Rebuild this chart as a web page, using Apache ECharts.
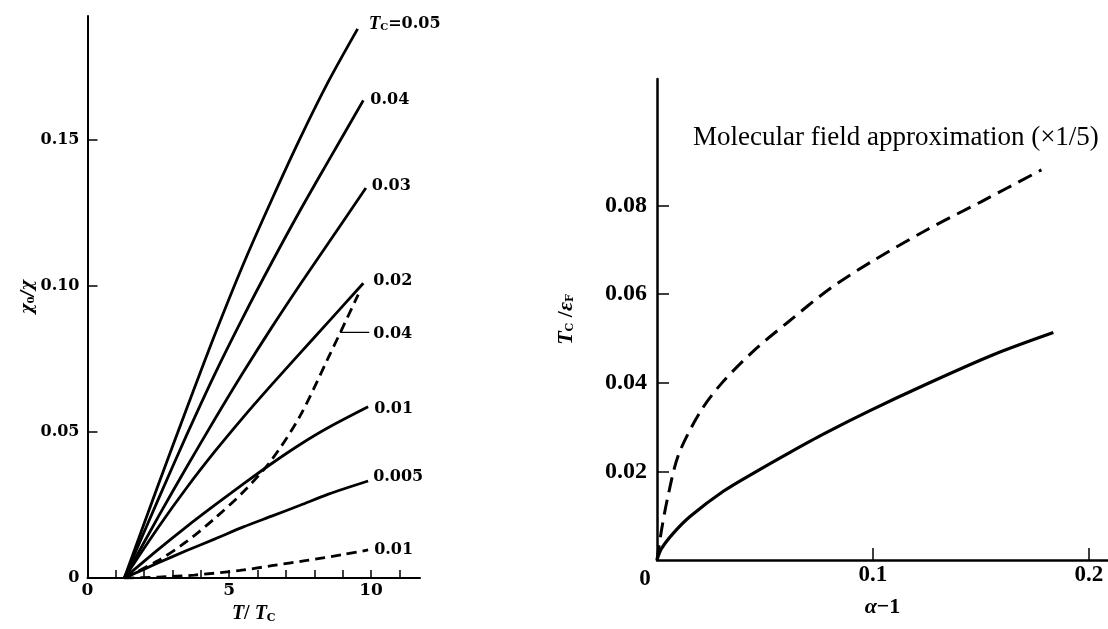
<!DOCTYPE html>
<html>
<head>
<meta charset="utf-8">
<script src="https://cdn.jsdelivr.net/npm/echarts@6/dist/echarts.min.js"></script>
<style>
html,body{margin:0;padding:0;background:#fff;}
#chart{width:1108px;height:629px;}
</style>
</head>
<body>
<div id="chart"></div>
<script>
// ---------- Left panel data: chi0/chi vs T/Tc ----------
const tc005 = [[1.3,0],[2.5,0.032],[3.5,0.058],[4.5,0.0835],[5.5,0.1075],[6.5,0.1295],[7.5,0.1505],[8.5,0.170],[9.53,0.188]];
const tc004 = [[1.3,0],[2.5,0.027],[3.5,0.049],[4.5,0.070],[5.5,0.0895],[6.5,0.108],[7.5,0.1258],[8.5,0.1428],[9.73,0.1635]];
const tc003 = [[1.3,0],[2.5,0.021],[3.5,0.038],[4.5,0.0545],[5.5,0.0705],[6.5,0.0858],[7.5,0.1005],[8.5,0.1147],[9.82,0.1335]];
const tc002 = [[1.3,0],[2.5,0.0174],[3.5,0.0309],[4.5,0.0434],[5.5,0.0551],[6.5,0.0662],[7.5,0.077],[8.5,0.0877],[9.73,0.1009]];
const tc001 = [[1.3,0],[2.5,0.0098],[3.5,0.0176],[4.5,0.025],[5.5,0.0322],[6.5,0.0392],[7.5,0.0457],[8.5,0.0515],[9.9,0.0586]];
const tc0005 = [[1.3,0],[2.5,0.0052],[3.5,0.0094],[4.5,0.0134],[5.5,0.0175],[6.5,0.0212],[7.5,0.0249],[8.5,0.0287],[9.9,0.0332]];
const dash004 = [[1.3,0],[2.5,0.006],[3.5,0.0125],[4.5,0.0205],[5.5,0.0295],[6.5,0.0405],[7.5,0.0555],[8.5,0.0755],[9.55,0.097]];
const dash001 = [[1.3,0],[2.5,0.0003],[3.77,0.001],[5.38,0.0026],[6.5,0.0042],[7.73,0.006],[9.0,0.008],[9.9,0.0096]];
const leader004 = [[8.91,0.0841],[9.94,0.0841]];
const leftLabels = ['{t|T}{s|C}{n|=0.05}','0.04','0.03','0.02','0.01','0.005','0.01','0.04'];
const leftXTicks = [1,2,3,4,5,6,7,8,9,10,11];
const leftXLabels = [0,5,10];
const leftYTicks = [0.05,0.10,0.15];
const leftYLabels = [0,0.05,0.10,0.15];

// ---------- Right panel data: Tc/eF vs alpha-1 ----------
const mfaDashed = [[0,0],[0.002,0.0065],[0.005,0.0142],[0.01,0.0238],[0.02,0.0334],[0.03,0.0399],[0.045,0.0473],[0.06,0.0534],[0.08,0.0612],[0.1,0.0675],[0.125,0.0745],[0.15,0.0808],[0.178,0.088]];
const tcSolid = [[0,0],[0.002,0.0025],[0.0075,0.006],[0.0153,0.0098],[0.0307,0.0155],[0.0461,0.020],[0.0616,0.0243],[0.077,0.0284],[0.0986,0.0337],[0.1249,0.0397],[0.1557,0.0463],[0.1835,0.0513]];
const rightXTicks = [0.1,0.2];
const rightXLabels = [0,0.1,0.2];
const rightYTicks = [0.02,0.04,0.06,0.08];
const annotation = 'Molecular field approximation (\u00d71/5)';

const BLACK = '#000';

// label placement tweaks (distance, offset) for each left curve label
const leftLabelPos = [
  {d:8, o:[3,-5]}, {d:7,o:[0,-1]}, {d:6,o:[0,-2]}, {d:10,o:[0,-2]},
  {d:6,o:[0,2]}, {d:5,o:[0,-4]}, {d:6,o:[0,0]}, {d:4,o:[0,1]}
];
const richTc = {
  t:{fontFamily:'Liberation Serif', fontStyle:'italic', fontWeight:'bold', fontSize:19, color:BLACK},
  s:{fontFamily:'DejaVu Serif', fontWeight:'bold', fontSize:10, color:BLACK, padding:[8,0,0,0]},
  n:{fontFamily:'DejaVu Serif', fontWeight:'bold', fontSize:16, color:BLACK}
};

function leftLine(data, idx, dashed, width){
  const p = leftLabelPos[idx];
  return {
    type:'line', xAxisIndex:0, yAxisIndex:0, data:data,
    showSymbol:false, symbol:'none', smooth: width ? false : 0.3,
    lineStyle:{color:BLACK, width: width || 2.8, type: dashed ? [10,6] : 'solid'},
    endLabel:{show:true, formatter:leftLabels[idx], distance:p.d, offset:p.o,
      color:BLACK, fontFamily:'DejaVu Serif', fontWeight:'bold', fontSize:16, rich:richTc},
    z: 3
  };
}
function plainLine(data, dashed){
  return {
    type:'line', xAxisIndex:0, yAxisIndex:0, data:data,
    showSymbol:false, symbol:'none', smooth:0.3,
    lineStyle:{color:BLACK, width:2.8, type: dashed ? [10,6] : 'solid'}
  };
}

const option = {
  animation:false,
  backgroundColor:'#fff',
  grid:[
    {left:87.5, top:16, width:332.5, height:566.7},
    {left:657, top:79, width:451, height:481}
  ],
  xAxis:[
    {gridIndex:0, type:'value', min:0, max:11.73,
     axisLine:{lineStyle:{color:BLACK, width:2}},
     axisTick:{inside:true, length:8, customValues:leftXTicks, lineStyle:{color:BLACK, width:1.5}},
     axisLabel:{customValues:leftXLabels, margin:4, fontSize:17, color:BLACK, fontFamily:'DejaVu Serif', fontWeight:'bold'},
     splitLine:{show:false},
     name:'{i|T}{n|/ }{i|T}{s|C}', nameLocation:'middle', nameGap:26,
     nameTextStyle:{rich:{
       i:{fontFamily:'Liberation Serif', fontStyle:'italic', fontWeight:'bold', fontSize:20, color:BLACK},
       n:{fontFamily:'Liberation Serif', fontWeight:'bold', fontSize:20, color:BLACK},
       s:{fontFamily:'DejaVu Serif', fontWeight:'bold', fontSize:11, color:BLACK, padding:[8,0,0,0]}
     }}
    },
    {gridIndex:1, type:'value', min:0, max:0.2088,
     axisLine:{lineStyle:{color:BLACK, width:2.5}},
     axisTick:{inside:true, length:12, customValues:rightXTicks, lineStyle:{color:BLACK, width:1.5}},
     axisLabel:{customValues:rightXLabels, margin:4, color:BLACK, fontFamily:'Liberation Serif', fontWeight:'bold', fontSize:23,
       formatter:function(v){ return v===0 ? '{z|0}' : v.toFixed(1); },
       rich:{z:{color:BLACK, fontFamily:'Liberation Serif', fontWeight:'bold', fontSize:23, padding:[4,24,0,0]}}},
     splitLine:{show:false},
     name:'{i|\u03b1}{n|\u22121}', nameLocation:'middle', nameGap:36,
     nameTextStyle:{rich:{
       i:{fontFamily:'Liberation Serif', fontStyle:'italic', fontWeight:'bold', fontSize:22, color:BLACK},
       n:{fontFamily:'Liberation Serif', fontWeight:'bold', fontSize:22, color:BLACK}
     }}
    }
  ],
  yAxis:[
    {gridIndex:0, type:'value', min:0, max:0.1924,
     axisLine:{show:true, lineStyle:{color:BLACK, width:2}},
     axisTick:{show:true, inside:true, length:10, customValues:leftYTicks, lineStyle:{color:BLACK, width:1.5}},
     axisLabel:{customValues:leftYLabels, margin:8, color:BLACK, fontFamily:'DejaVu Serif', fontWeight:'bold', fontSize:16,
       formatter:function(v){ return v===0 ? '0' : v.toFixed(2); }},
     splitLine:{show:false},
     name:'{a|\u03c7}{s|0}{a|/\u03c7}', nameLocation:'middle', nameGap:50, nameRotate:90,
     nameTextStyle:{rich:{
       a:{fontFamily:'DejaVu Serif', fontStyle:'italic', fontWeight:'bold', fontSize:16, color:BLACK},
       s:{fontFamily:'DejaVu Serif', fontWeight:'bold', fontSize:10, color:BLACK, padding:[8,0,0,0]}
     }}
    },
    {gridIndex:1, type:'value', min:0, max:0.1085,
     axisLine:{show:true, lineStyle:{color:BLACK, width:2.5}},
     axisTick:{show:true, inside:true, length:12, customValues:rightYTicks, lineStyle:{color:BLACK, width:1.5}},
     axisLabel:{customValues:rightYTicks, margin:10, color:BLACK, fontFamily:'Liberation Serif', fontWeight:'bold', fontSize:24,
       formatter:function(v){ return v.toFixed(2); }},
     splitLine:{show:false},
     name:'{i|T}{s|C}{n| /}{i|\u03b5}{s|F}', nameLocation:'middle', nameGap:80, nameRotate:90,
     nameTextStyle:{rich:{
       i:{fontFamily:'Liberation Serif', fontStyle:'italic', fontWeight:'bold', fontSize:22, color:BLACK},
       n:{fontFamily:'Liberation Serif', fontWeight:'bold', fontSize:22, color:BLACK},
       s:{fontFamily:'DejaVu Serif', fontWeight:'bold', fontSize:11, color:BLACK, padding:[8,0,0,0]}
     }}
    }
  ],
  graphic:[
    {type:'text', left:693, top:124,
     style:{text:annotation, fill:BLACK, font:'27px "Liberation Serif"'}}
  ],
  series:[
    leftLine(tc005,0,false),
    leftLine(tc004,1,false),
    leftLine(tc003,2,false),
    leftLine(tc002,3,false),
    leftLine(tc001,4,false),
    leftLine(tc0005,5,false),
    leftLine(dash001,6,true),
    plainLine(dash004,true),
    leftLine(leader004,7,false,1.3),
    {type:'line', xAxisIndex:1, yAxisIndex:1, data:mfaDashed, showSymbol:false, symbol:'none', smooth:0.3,
     lineStyle:{color:BLACK, width:3, type:[15,8]}},
    {type:'line', xAxisIndex:1, yAxisIndex:1, data:tcSolid, showSymbol:false, symbol:'none', smooth:0.3,
     lineStyle:{color:BLACK, width:3.2}}
  ]
};
const chart = echarts.init(document.getElementById('chart'), null, {renderer:'canvas'});
chart.setOption(option);
</script>
</body>
</html>
